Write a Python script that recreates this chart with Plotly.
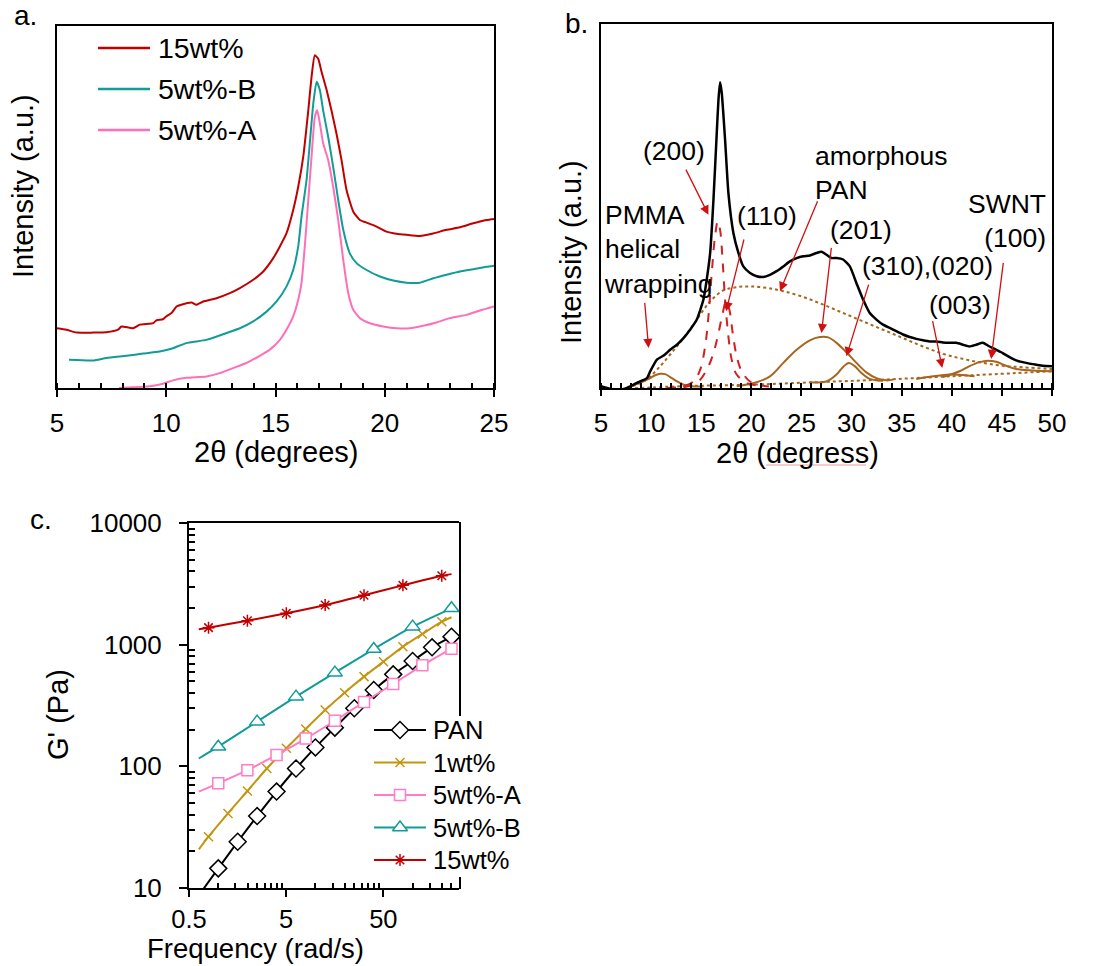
import math
import plotly.graph_objects as go

W, H = 1101, 966
FONT = "Arial, Liberation Sans, sans-serif"

# ---------------- panel a: XRD of the composite films ----------------
a_theta_15 = [5.00, 5.43, 5.89, 6.65, 7.26, 7.79, 7.95, 8.48, 8.79, 9.40, 9.55, 9.85, 10.01, 10.24,
              10.47, 10.69, 11.15, 11.38, 11.69, 12.30, 12.91, 13.37, 13.98, 14.44, 14.89, 15.20,
              15.50, 15.81, 16.04, 16.27, 16.50, 16.65, 16.80, 16.95, 17.11, 17.34, 17.56, 17.79,
              18.02, 18.25, 18.56, 18.86, 19.17, 19.63, 20.08, 20.54, 21.00, 21.61, 22.22, 22.83,
              23.44, 24.05, 24.66, 25.00]
a_int_15 = [16.5, 16.1, 15.3, 15.3, 15.4, 16.1, 17.0, 16.5, 17.5, 17.9, 18.7, 19.0, 19.8, 20.7,
            22.5, 23.0, 23.6, 23.0, 23.9, 24.8, 26.2, 27.6, 29.9, 32.2, 35.8, 39.1,
            42.7, 49.2, 55.6, 63.9, 76.7, 85.9, 91.9, 91.0, 87.3, 82.3, 76.7, 70.3,
            63.0, 54.7, 48.7, 46.4, 45.7, 44.6, 43.2, 42.6, 42.3, 42.0, 42.7, 43.7,
            44.4, 45.5, 46.4, 46.7]

a_theta_5b = [5.55, 6.65, 7.26, 8.18, 8.94, 9.70, 10.31, 10.92, 11.84, 12.76, 13.37, 13.98, 14.59,
              15.05, 15.50, 15.81, 16.04, 16.19, 16.42, 16.57, 16.73, 16.88, 17.03, 17.18, 17.41,
              17.64, 17.87, 18.10, 18.40, 18.71, 19.17, 19.78, 20.39, 21.00, 21.61, 22.22, 22.83,
              23.44, 24.05, 24.66, 25.00]
a_int_5b = [7.8, 7.6, 8.3, 8.9, 9.5, 10.1, 11.0, 12.4, 13.3, 15.2, 16.5, 18.4, 21.1,
            23.9, 28.0, 32.6, 39.1, 47.3, 57.4, 67.6, 78.6, 84.6, 82.3, 76.7, 69.4,
            61.1, 51.9, 43.7, 37.2, 34.5, 32.6, 30.8, 29.7, 29.1, 29.1, 30.3, 31.3,
            32.2, 32.8, 33.5, 33.8]

a_theta_5a = [7.84, 8.48, 9.24, 9.85, 10.31, 10.92, 11.84, 12.45, 13.06, 13.67, 14.28, 14.74, 15.20,
              15.50, 15.81, 16.04, 16.19, 16.34, 16.50, 16.65, 16.80, 16.91, 17.03, 17.18, 17.41,
              17.64, 17.87, 18.10, 18.33, 18.56, 18.86, 19.32, 19.93, 20.54, 21.15, 21.76, 22.37,
              22.98, 23.75, 24.36, 25.00]
a_int_5a = [0.0, 0.2, 0.5, 1.2, 2.1, 2.8, 3.2, 4.1, 5.5, 6.9, 8.9, 10.6, 13.3,
            16.1, 19.8, 24.4, 29.0, 39.1, 51.9, 63.9, 74.9, 76.7, 73.1, 67.6, 63.0,
            55.6, 46.4, 35.4, 26.2, 21.6, 19.3, 17.9, 17.0, 16.5, 16.5, 17.2, 18.1,
            19.3, 20.2, 21.4, 22.5]

a_series = ["15wt%", "5wt%-B", "5wt%-A"]

# ---------------- panel b: peak deconvolution ----------------
b_theta = [5.00, 5.60, 6.59, 7.59, 8.58, 9.58, 9.91, 10.58, 11.24, 11.90, 12.57, 13.23, 13.89, 14.56,
           15.22, 15.55, 15.89, 16.22, 16.55, 16.72, 16.88, 17.05, 17.38, 17.71, 18.21, 18.71,
           19.20, 19.87, 20.53, 21.20, 21.86, 22.52, 23.19, 23.85, 24.52, 25.18, 25.84, 26.51,
           27.00, 27.50, 28.00, 28.50, 29.16, 29.83, 30.49, 31.15, 31.82, 32.48, 33.14, 33.81,
           34.47, 35.14, 35.80, 36.46, 37.13, 37.79, 38.46, 39.12, 39.78, 40.45, 41.11, 41.77,
           42.44, 43.10, 43.77, 44.43, 45.09, 45.76, 46.42, 47.08, 47.75, 48.41, 49.08, 50.00]
b_int = [0.5, 0.0, -0.6, 0.0, 1.4, 2.7, 4.6, 7.8, 8.9, 10.5, 11.9, 13.7, 16.0, 18.8,
         24.3, 29.8, 37.1, 51.7, 70.1, 79.2, 84.0, 81.0, 68.2, 53.6, 42.6, 37.1,
         33.4, 31.6, 30.7, 30.5, 31.1, 32.1, 33.4, 34.8, 35.7, 36.2, 36.4, 37.1,
         37.4, 36.6, 35.7, 35.7, 35.3, 33.4, 28.8, 24.3, 20.6, 18.8, 17.4, 16.5,
         15.6, 14.7, 14.0, 13.5, 13.1, 12.8, 12.8, 12.5, 12.4, 12.4, 11.9, 11.4,
         11.9, 12.4, 11.4, 10.5, 9.6, 8.5, 7.6, 7.1, 6.7, 6.4, 6.1, 6.0]

# crystalline PAN reflections (dashed)
p200_theta = [11.57, 13.23, 14.23, 14.89, 15.39, 15.72, 16.05, 16.38, 16.65, 16.88, 17.15, 17.38,
              17.71, 18.04, 18.54, 19.54, 21.20]
p200_int = [0.0, 0.5, 1.8, 5.0, 11.4, 19.7, 31.6, 41.7, 45.8, 43.5, 34.3, 24.3,
            14.2, 7.8, 3.7, 1.4, 0.5]
p110_theta = [13.23, 14.56, 15.55, 16.22, 16.72, 17.15, 17.48, 17.81, 18.14, 18.54, 19.04, 19.87,
              21.20, 22.52]
p110_int = [0.2, 1.4, 5.0, 9.6, 15.1, 20.6, 23.8, 21.5, 15.1, 8.7, 4.6, 1.8, 0.6, 0.3]

# amorphous halo and baseline (dotted)
amor_theta = [7.59, 9.25, 10.58, 11.90, 13.23, 14.56, 15.89, 17.21, 18.54, 19.87, 21.53, 23.19,
              25.18, 27.17, 29.16, 31.15, 33.14, 35.14, 37.13, 39.12, 41.11, 43.10, 45.09,
              47.08, 50.00]
amor_int = [0.0, 1.8, 5.0, 9.2, 13.7, 18.8, 23.8, 26.8, 27.7, 27.9, 27.5, 26.6,
            25.0, 22.9, 20.6, 18.3, 16.0, 13.7, 11.4, 9.4, 8.0, 6.9, 6.1, 5.7, 5.2]
base_theta = [6.59, 13.23, 19.87, 26.51, 33.14, 39.78, 46.42, 50.00]
base_int = [-0.3, 0.5, 0.9, 1.6, 2.3, 3.2, 4.1, 4.6]

# remaining fitted peaks (solid)
pmma_theta = [7.59, 8.92, 9.75, 10.41, 10.91, 11.41, 12.07, 12.73, 13.56, 15.22]
pmma_int = [0.2, 1.4, 2.5, 3.5, 3.9, 3.8, 2.7, 1.6, 0.6, 0.4]
p201_theta = [18.54, 20.53, 21.86, 23.19, 24.52, 25.84, 26.84, 27.67, 28.50, 29.49, 30.49, 31.48,
              32.48, 33.48, 34.14]
p201_int = [0.5, 1.6, 3.2, 6.9, 10.5, 13.1, 14.0, 13.9, 12.4, 9.8, 6.9, 4.3, 2.7, 2.1, 2.3]
p310_theta = [25.84, 27.50, 28.50, 29.16, 29.73, 30.32, 30.99, 31.82, 32.81, 33.14]
p310_int = [1.6, 1.8, 3.7, 5.8, 6.9, 6.0, 4.1, 2.5, 2.0, 2.0]
p003_theta = [36.46, 38.12, 39.78, 41.11, 42.27]
p003_int = [2.5, 3.2, 3.7, 3.6, 3.2]
p100_theta = [39.12, 40.78, 41.77, 42.77, 43.60, 44.43, 45.42, 46.42, 48.08, 50.00]
p100_int = [3.0, 4.6, 6.0, 7.1, 7.5, 7.2, 6.1, 5.2, 4.8, 4.6]

# ---------------- panel c: storage modulus ----------------
c_names = ["PAN", "1wt%", "5wt%-A", "5wt%-B", "15wt%"]
freq_pan = [0.631, 1.0, 1.585, 2.512, 3.981, 6.31, 10.0, 15.85, 25.12, 39.81, 63.1, 100.0, 158.5, 251.2]
g_pan = [8.7, 14.5, 24, 39, 62, 96, 143, 208, 300, 424, 570, 734, 951, 1164]
freq_1 = [0.631, 0.794, 1.259, 1.995, 3.162, 5.012, 7.943, 12.59, 19.95, 31.62, 50.12, 79.43,
          125.9, 199.5, 251.2]
g_1 = [20.8, 26.4, 41, 62.7, 96, 141, 203, 290, 403, 546, 725, 963, 1224, 1545, 1680]
freq_5a = [0.631, 1.0, 1.995, 3.981, 7.943, 15.85, 31.62, 63.1, 125.9, 251.2]
g_5a = [62, 72.5, 93, 124, 169, 237, 338, 475, 676, 927]
freq_5b = [0.631, 1.0, 2.512, 6.31, 15.85, 39.81, 100.0, 251.2]
g_5b = [116, 145, 233, 374, 589, 921, 1406, 1990]
freq_15 = [0.631, 0.794, 1.995, 5.012, 12.59, 31.62, 79.43, 199.5, 251.2]
g_15 = [1337, 1380, 1575, 1810, 2119, 2544, 3073, 3690, 3800]

c_xticks = [0.5, 5, 50]
c_yticks = [10, 100, 1000, 10000]

# ---------------- styles ----------------
RED = "#C00000"
TEAL = "#119C97"
PINK = "#FF6FB7"
GOLD = "#C39511"
PINK_C = "#FF7DC2"
BROWN = "#A8651E"
ARROW = "#D01010"


def px(x):
    return x / W


def py(y):
    return 1 - y / H


fig = go.Figure()

# panel a curves
for name, xs, ys, col in [("15wt%", a_theta_15, a_int_15, RED),
                          ("5wt%-B", a_theta_5b, a_int_5b, TEAL),
                          ("5wt%-A", a_theta_5a, a_int_5a, PINK)]:
    fig.add_trace(go.Scatter(x=xs, y=ys, mode="lines", name=name, showlegend=False,
                             line=dict(color=col, width=2, shape="spline", smoothing=0.5),
                             xaxis="x", yaxis="y"))

# panel b curves
fig.add_trace(go.Scatter(x=amor_theta, y=amor_int, mode="lines", showlegend=False,
                         line=dict(color=BROWN, width=2, dash="dot", shape="spline"),
                         xaxis="x2", yaxis="y2"))
fig.add_trace(go.Scatter(x=base_theta, y=base_int, mode="lines", showlegend=False,
                         line=dict(color=BROWN, width=2, dash="dot", shape="spline"),
                         xaxis="x2", yaxis="y2"))
for xs, ys in [(pmma_theta, pmma_int), (p201_theta, p201_int), (p310_theta, p310_int),
               (p003_theta, p003_int), (p100_theta, p100_int)]:
    fig.add_trace(go.Scatter(x=xs, y=ys, mode="lines", showlegend=False,
                             line=dict(color=BROWN, width=2, shape="spline"),
                             xaxis="x2", yaxis="y2"))
for xs, ys in [(p200_theta, p200_int), (p110_theta, p110_int)]:
    fig.add_trace(go.Scatter(x=xs, y=ys, mode="lines", showlegend=False,
                             line=dict(color="#D42020", width=2, dash="dash", shape="spline"),
                             xaxis="x2", yaxis="y2"))
fig.add_trace(go.Scatter(x=b_theta, y=b_int, mode="lines", showlegend=False,
                         line=dict(color="black", width=2.5, shape="spline", smoothing=0.5),
                         xaxis="x2", yaxis="y2"))

# panel c curves: (name, freq, G', colour, symbol, fill, size, marker slice)
c_series = [
    ("PAN", freq_pan, g_pan, "black", "diamond", "white", 13, slice(1, None)),
    ("1wt%", freq_1, g_1, GOLD, "x-thin-open", GOLD, 9, slice(1, -1)),
    ("5wt%-A", freq_5a, g_5a, PINK_C, "square", "white", 11, slice(1, None)),
    ("5wt%-B", freq_5b, g_5b, TEAL, "triangle-up", "white", 13, slice(1, None)),
    ("15wt%", freq_15, g_15, RED, "asterisk-open", RED, 10, slice(1, -1)),
]
for name, fr, g, col, sym, fill, size, sl in c_series:
    fig.add_trace(go.Scatter(x=fr, y=g, mode="lines", showlegend=False,
                             line=dict(color=col, width=2, shape="spline", smoothing=0.6),
                             xaxis="x3", yaxis="y3"))
    fig.add_trace(go.Scatter(x=fr[sl], y=g[sl], mode="markers", name=name, showlegend=False,
                             marker=dict(symbol=sym, size=size, color=fill,
                                         line=dict(color=col, width=1.5)),
                             cliponaxis=False, xaxis="x3", yaxis="y3"))

# panel c legend samples on a small hidden axis pair
for i, (name, fr, g, col, sym, fill, size, sl) in enumerate(c_series):
    yk = len(c_series) - 1 - i
    fig.add_trace(go.Scatter(x=[0, 1], y=[yk, yk], mode="lines", showlegend=False,
                             line=dict(color=col, width=2), xaxis="x4", yaxis="y4",
                             hoverinfo="skip"))
    fig.add_trace(go.Scatter(x=[0.5], y=[yk], mode="markers", showlegend=False,
                             marker=dict(symbol=sym, size=size, color=fill,
                                         line=dict(color=col, width=1.5)),
                             cliponaxis=False, xaxis="x4", yaxis="y4", hoverinfo="skip"))

tickfont = dict(family=FONT, size=26, color="black")
frame = dict(showline=True, linecolor="black", linewidth=2, showgrid=False, zeroline=False,
             automargin=False)

layout = dict(
    template="none",
    width=W, height=H, autosize=False,
    margin=dict(l=0, r=0, t=0, b=0, pad=0),
    paper_bgcolor="white", plot_bgcolor="white",
    font=dict(family=FONT, color="black"),
    showlegend=False,
    xaxis=dict(domain=[px(57), px(494)], range=[5, 25], anchor="y", mirror=True,
               tickvals=[5, 10, 15, 20, 25], ticks="outside", ticklen=7, tickwidth=2,
               tickcolor="black", tickfont=tickfont, ticklabelstandoff=4,
               minor=dict(dtick=1, ticks="inside", ticklen=5, tickwidth=1.5, tickcolor="black"),
               **frame),
    yaxis=dict(domain=[py(388), py(26)], range=[0, 100], anchor="x", mirror=True,
               showticklabels=False, ticks="", **frame),
    xaxis2=dict(domain=[px(601), px(1052)], range=[5, 50], anchor="y2", mirror=True,
                tickvals=list(range(5, 51, 5)), ticks="outside", ticklen=6, tickwidth=2,
                tickcolor="black", tickfont=tickfont, ticklabelstandoff=5,
                minor=dict(dtick=1, ticks="inside", ticklen=5, tickwidth=1.5, tickcolor="black"),
                **frame),
    yaxis2=dict(domain=[py(388), py(24)], range=[0, 100], anchor="x2", mirror=True,
                showticklabels=False, ticks="", **frame),
    xaxis3=dict(domain=[px(189), px(459)], type="log",
                range=[math.log10(0.5), math.log10(300)], anchor="y3", mirror=True,
                tickvals=c_xticks, ticktext=[str(v) for v in c_xticks],
                ticks="outside", ticklen=7, tickwidth=2, tickcolor="black",
                tickfont=dict(family=FONT, size=25.5, color="black"),
                ticklabelstandoff=0,
                minor=dict(tickvals=[1, 1.5, 2, 2.5, 3, 3.5, 4, 4.5,
                                     10, 15, 20, 25, 30, 35, 40, 45,
                                     100, 150, 200, 250],
                           ticks="inside", ticklen=5, tickwidth=1.5, tickcolor="black"),
                **frame),
    yaxis3=dict(domain=[py(888), py(523)], type="log", range=[1, 4], anchor="x3", mirror=False,
                tickvals=c_yticks, ticktext=[str(v) for v in c_yticks],
                ticks="outside", ticklen=8, tickwidth=2, tickcolor="black", tickfont=tickfont,
                ticklabelstandoff=12,
                minor=dict(tickvals=[m * 10 ** e for e in (1, 2, 3) for m in range(2, 10)],
                           ticks="inside", ticklen=6, tickwidth=1.5, tickcolor="black"),
                **frame),
    xaxis4=dict(domain=[px(374), px(426)], range=[0, 1], anchor="y4", visible=False),
    yaxis4=dict(domain=[py(876.25), py(713.75)], range=[-0.5, 4.5], anchor="x4", visible=False),
)
fig.update_layout(**layout)

ann = []


def text(x, y, s, size, xanchor="center", yanchor="middle", align="center", angle=0,
         xref="paper", yref="paper"):
    ann.append(dict(x=x, y=y, xref=xref, yref=yref, text=s, showarrow=False,
                    xanchor=xanchor, yanchor=yanchor, align=align, textangle=angle,
                    font=dict(family=FONT, size=size, color="black")))


# panel labels
text(px(25), py(16), "a.", 28)
text(px(576), py(23), "b.", 28)
text(px(41), py(519), "c.", 28)

# axis titles
text(px(23), py(186), "Intensity (a.u.)", 29, angle=-90)
text(px(275.5), py(452), "2θ (degrees)", 29)
text(px(571), py(252), "Intensity (a.u.)", 29, angle=-90)
text(px(797), py(452.5), "2θ (degress)", 29)
text(px(58), py(715), "G' (Pa)", 29, angle=-90)
text(px(255), py(948), "Frequency (rad/s)", 27.5)

# panel a legend
a_colors = [RED, TEAL, PINK]
a_legend_y = [48, 89, 130]
shapes = []
for name, col, yy in zip(a_series, a_colors, a_legend_y):
    shapes.append(dict(type="line", xref="paper", yref="paper", x0=px(98), x1=px(150),
                       y0=py(yy), y1=py(yy), line=dict(color=col, width=2.5)))
    text(px(156), py(yy), name, 28.5, xanchor="left")

# panel c legend labels
for i, name in enumerate(c_names):
    text(px(431), py(730 + i * 32.5), name, 25.5, xanchor="left")

# right frame of panel c, interrupted by its legend
for y0, y1 in [(522, 716), (877, 889)]:
    shapes.append(dict(type="line", xref="paper", yref="paper", x0=px(460), x1=px(460),
                       y0=py(y0), y1=py(y1), line=dict(color="black", width=2)))

# spell-check underline under the panel b axis title
shapes.append(dict(type="line", xref="paper", yref="paper", x0=px(766), x1=px(866),
                   y0=py(465), y1=py(465), line=dict(color="#F29A9A", width=1)))

# panel b peak labels
b_labels = [
    (5.1, 38.0, "PMMA<br>helical<br>wrapping", "left"),
    (12.30, 65.0, "(200)", "center"),
    (21.53, 47.2, "(110)", "center"),
    (26.17, 59.2, "amorphous<br>PAN", "left"),
    (30.99, 43.5, "(201)", "center"),
    (37.62, 33.4, "(310),(020)", "center"),
    (40.84, 22.9, "(003)", "center"),
    (49.57, 45.8, "SWNT<br>(100)", "right"),
]
for x, y, s, al in b_labels:
    text(x, y, s, 26.5, xanchor=al, align=al, xref="x2", yref="y2")

# panel b arrows: (tail theta, tail I, head theta, head I)
b_arrows = [
    (9.35, 23.8, 9.75, 11.0),
    (13.40, 60.4, 15.72, 47.6),
    (19.30, 41.2, 17.48, 21.1),
    (26.67, 51.7, 22.86, 26.6),
    (28.00, 38.9, 27.00, 15.1),
    (31.75, 28.8, 29.49, 8.7),
    (38.06, 18.8, 39.05, 5.5),
    (45.16, 34.8, 43.93, 8.0),
]
for tx, ty, hx, hy in b_arrows:
    ann.append(dict(x=hx, y=hy, ax=tx, ay=ty, xref="x2", yref="y2", axref="x2", ayref="y2",
                    text="", showarrow=True, arrowhead=2, arrowsize=1.4, arrowwidth=1.3,
                    arrowcolor=ARROW))

fig.update_layout(annotations=ann, shapes=shapes)
fig.write_html("out.html")
